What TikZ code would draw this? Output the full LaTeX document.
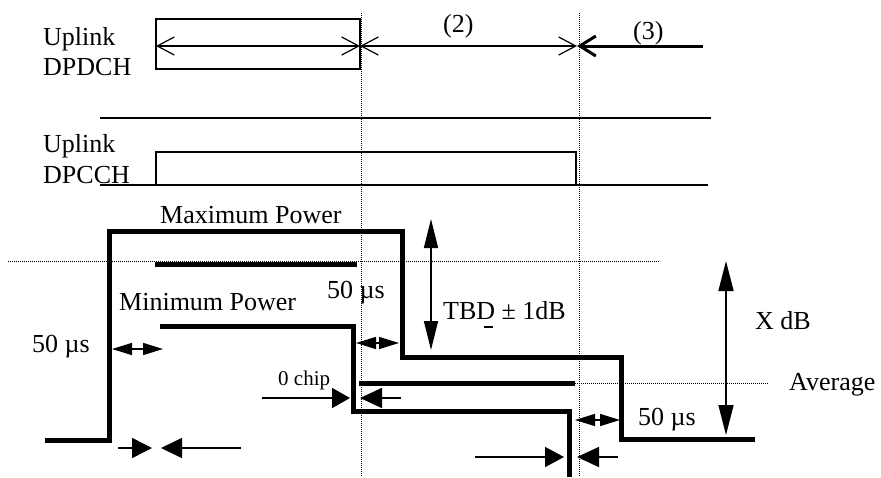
\documentclass[tikz,border=0pt]{standalone}
\usepackage{fontspec}
\setmainfont{Liberation Serif}
\usetikzlibrary{arrows.meta}
\begin{document}
\begin{tikzpicture}[x=1pt,y=-1pt,
  lbl/.style={font=\fontsize{26}{30}\selectfont, inner sep=0pt, anchor=base west},
  smalllbl/.style={font=\fontsize{21}{24}\selectfont, inner sep=0pt, anchor=base west},
  dotline/.style={line width=0.8pt, dash pattern=on 1pt off 1pt},
  chanbox/.style={line width=2.2pt},
  trace/.style={line width=5pt, line join=miter},
  barb/.style={line width=1.2pt, {Straight Barb[length=17pt,width=18pt]}-{Straight Barb[length=17pt,width=18pt]}},
  fhead/.style={line width=1.5pt, -{Triangle[length=20pt,width=20pt]}},
  vdbl/.style={line width=1.5pt, {Triangle[length=29pt,width=14pt]}-{Triangle[length=29pt,width=14pt]}},
  hdbl/.style={line width=1.5pt, {Triangle[length=20pt,width=12pt]}-{Triangle[length=20pt,width=12pt]}}
]
\useasboundingbox (0,0) rectangle (881,477);

% labels
\node[lbl] (up1) at (43,45) {Uplink};
\node[lbl] (dpdch) at (43,75) {DPDCH};
\node[lbl] (up2) at (43,152) {Uplink};
\node[lbl] (dpcch) at (43,183) {DPCCH};
\node[lbl] (lab2) at (443,32) {(2)};
\node[lbl] (lab3) at (633,39) {(3)};
\node[lbl] (maxp) at (160,223) {Maximum Power};
\node[lbl] (minp) at (119,310) {Minimum Power};
\node[lbl] (usmid) at (327,298) {50 µs};
\node[lbl] (usleft) at (32,352) {50 µs};
\node[lbl] (usright) at (638,425) {50 µs};
\node[lbl] (tbd) at (443,319) {TBD ± 1dB};
\node[lbl] (xdb) at (755,329) {X dB};
\node[lbl] (avg) at (789,390) {Average};
\node[smalllbl] (chip) at (278,385) {0 chip};
\draw[line width=1.5pt] (484,327) -- (493,327);

% dotted guides
\draw[dotline] (361,13) -- (361,477);
\draw[dotline] (579,13) -- (579,477);
\draw[dotline] (8,261) -- (660,261);
\draw[dotline] (575,383) -- (768,383);

% DPDCH
\draw[chanbox] (156,19) rectangle (360,69);
\coordinate (a0) at (156,46);
\coordinate (a1) at (360,46);
\coordinate (a2) at (577,46);
\coordinate (a3) at (703,46);
\draw[barb] (a0) -- (a1);
\draw[barb] (a1) -- (a2);
\draw[line width=3pt, -{Straight Barb[length=16pt,width=20pt]}] (a3) -- (a2);

% separators and DPCCH
\draw[line width=2pt] (100,118) -- (711,118);
\draw[line width=2.4pt] (100,185) -- (708,185);
\draw[line width=2.8pt] (156,185) -- (156,152) -- (576,152) -- (576,185);

% power traces
\draw[trace] (45,440) -- (109,440) -- (109,231) -- (402,231) -- (402,357) -- (621,357) -- (621,439) -- (755,439);
\draw[trace] (155,264) -- (357,264);
\draw[trace] (160,326) -- (353,326) -- (353,411) -- (569,411) -- (569,477);
\draw[trace] (359,383) -- (575,383);

% vertical double arrows
\coordinate (t1) at (431,219);
\coordinate (t2) at (431,350);
\draw[vdbl] (t1) -- (t2);
\coordinate (x1) at (726,261);
\coordinate (x2) at (726,435);
\draw[line width=1.5pt, {Triangle[length=30pt,width=15pt]}-{Triangle[length=30pt,width=15pt]}] (x1) -- (x2);

% 50 us double arrows
\coordinate (l1) at (112,349);
\coordinate (l2) at (163,349);
\draw[hdbl] (l1) -- (l2);
\coordinate (m1) at (356,343);
\coordinate (m2) at (399,343);
\draw[hdbl] (m1) -- (m2);
\coordinate (r1) at (575,420);
\coordinate (r2) at (620,420);
\draw[hdbl] (r1) -- (r2);

% bottom arrows
\coordinate (b1) at (118,448);
\coordinate (b2) at (152,448);
\coordinate (b3) at (241,448);
\coordinate (b4) at (161,448);
\draw[fhead] (b1) -- (b2);
\draw[line width=1.5pt, -{Triangle[length=21pt,width=20pt]}] (b3) -- (b4);

\coordinate (c1) at (262,398);
\coordinate (c2) at (350,398);
\coordinate (c3) at (401,398);
\coordinate (c4) at (360,398);
\draw[line width=1.5pt, -{Triangle[length=18pt,width=20pt]}] (c1) -- (c2);
\draw[line width=1.5pt, -{Triangle[length=22pt,width=20pt]}] (c3) -- (c4);

\coordinate (d1) at (475,457);
\coordinate (d2) at (564,457);
\coordinate (d3) at (618,457);
\coordinate (d4) at (577,457);
\draw[line width=1.5pt, -{Triangle[length=19pt,width=20pt]}] (d1) -- (d2);
\draw[line width=1.5pt, -{Triangle[length=22pt,width=20pt]}] (d3) -- (d4);
\end{tikzpicture}
\end{document}
